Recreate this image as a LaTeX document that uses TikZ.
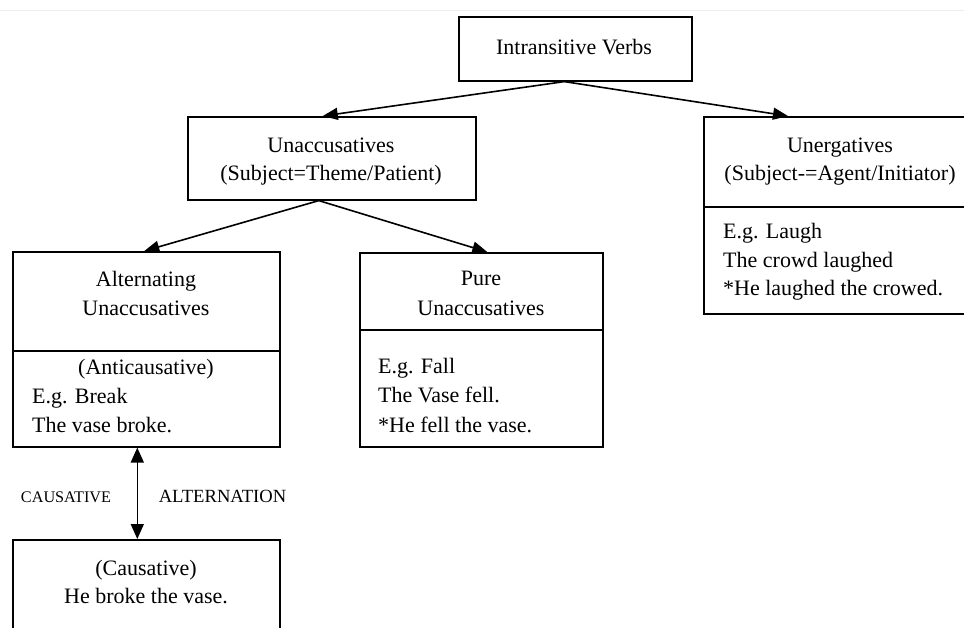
\documentclass[tikz,border=0pt]{standalone}
\usepackage{fontspec}
\setmainfont{Liberation Serif}
\usetikzlibrary{arrows.meta,calc}
\begin{document}
\begin{tikzpicture}[x=1pt,y=-1pt,
  box/.style={draw,line width=1.6pt,rectangle,inner sep=0pt,anchor=north west},
  txt/.style={inner sep=0pt,font=\fontsize{22}{29}\selectfont},
  ctxt/.style={txt,anchor=base},
  ltxt/.style={txt,anchor=base west},
  arr/.style={line width=1.6pt,-{Triangle[length=15pt,width=12pt]}},
  darr/.style={line width=1.6pt,{Triangle[length=15pt,width=13pt]}-{Triangle[length=15pt,width=13pt]}},
  divider/.style={line width=1.6pt}]
\useasboundingbox (0,0) rectangle (964,627);
\draw[gray!15,line width=1pt] (0,10) -- (964,10);

% boxes
\node[box,minimum width=233pt,minimum height=64pt] (top) at (458,16) {};
\node[box,minimum width=288pt,minimum height=83pt] (unacc) at (187,116) {};
\node[box,minimum width=274pt,minimum height=197pt] (unerg) at (703,116) {};
\node[box,minimum width=267pt,minimum height=195pt] (alt) at (12,251) {};
\node[box,minimum width=243pt,minimum height=194pt] (pure) at (359,252) {};
\node[box,minimum width=267pt,minimum height=130pt] (caus) at (12,539) {};

% dividers
\draw[divider] ($(unerg.north west)+(0,91)$) -- ($(unerg.north east)+(0,91)$);
\draw[divider] ($(alt.north west)+(0,100)$) -- ($(alt.north east)+(0,100)$);
\draw[divider] ($(pure.north west)+(0,78)$) -- ($(pure.north east)+(0,78)$);

% connectors
\draw[arr] ([xshift=-11pt]top.south) -- ([xshift=-9pt]unacc.north);
\draw[arr] ([xshift=-11pt]top.south) -- ([xshift=85pt]unerg.north west);
\draw[arr] ([xshift=-13pt]unacc.south) -- ([xshift=-2pt]alt.north);
\draw[arr] ([xshift=-13pt]unacc.south) -- ([xshift=6pt]pure.north);
\draw[darr] ([xshift=-9pt]alt.south) -- ([xshift=-9pt]caus.north);

% texts
\node[ctxt] (t0) at (574,54) {Intransitive Verbs};

\node[ctxt] (ua1) at (331,152) {Unaccusatives};
\node[ctxt] (ua2) at (331,180) {(Subject=Theme/Patient)};

\node[ctxt] (ue1) at (840,152) {Unergatives};
\node[ctxt] (ue2) at (840,180) {(Subject-=Agent/Initiator)};
\node[ltxt] (ue3) at (723,238) {E.g. Laugh};
\node[ltxt] (ue4) at (723,267) {The crowd laughed};
\node[ltxt] (ue5) at (723,295) {*He laughed the crowed.};

\node[ctxt] (al1) at (146,286) {Alternating};
\node[ctxt] (al2) at (146,315) {Unaccusatives};
\node[ctxt] (al3) at (146,374) {(Anticausative)};
\node[ltxt] (al4) at (32,403) {E.g. Break};
\node[ltxt] (al5) at (32,432) {The vase broke.};

\node[ctxt] (pu1) at (481,285) {Pure};
\node[ctxt] (pu2) at (481,315) {Unaccusatives};
\node[ltxt] (pu3) at (378,373) {E.g. Fall};
\node[ltxt] (pu4) at (378,402) {The Vase fell.};
\node[ltxt] (pu5) at (378,432) {*He fell the vase.};

\node[ctxt] (ca1) at (146,575) {(Causative)};
\node[ctxt] (ca2) at (146,603) {He broke the vase.};

\node[inner sep=0pt,anchor=base,font=\fontsize{16.2}{20}\selectfont] (lc) at (66,502) {CAUSATIVE};
\node[inner sep=0pt,anchor=base,font=\fontsize{18.6}{22}\selectfont] (la) at (222.5,502) {ALTERNATION};
\end{tikzpicture}
\end{document}
